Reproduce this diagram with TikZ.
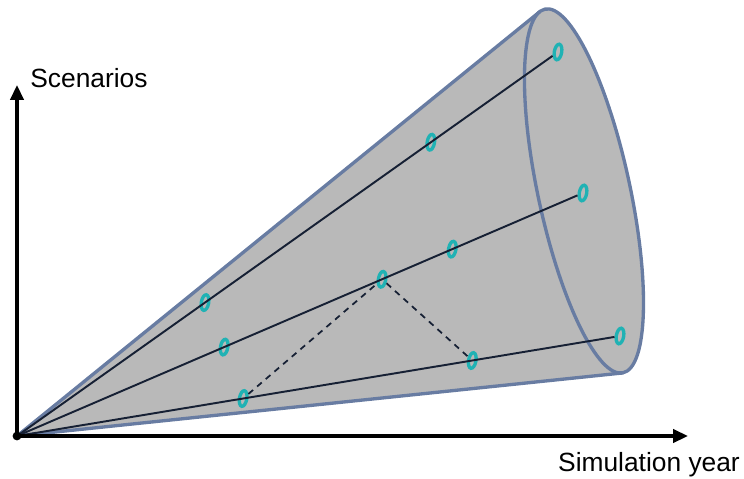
\documentclass[tikz,border=0pt]{standalone}
\usepackage{fontspec}
\setmainfont{Liberation Sans}
\usetikzlibrary{shapes.geometric, arrows.meta, calc}
\definecolor{conefill}{RGB}{185,185,185}
\definecolor{coneedge}{RGB}{104,124,162}
\definecolor{pathline}{RGB}{22,32,52}
\definecolor{ringcol}{RGB}{32,178,180}
\tikzset{
  axis/.style={line width=2pt, -{Triangle[length=8.5pt, width=7.5pt]}},
  coneline/.style={draw=coneedge, line width=1.9pt, line cap=round},
  traj/.style={draw=pathline, line width=1.1pt},
  link/.style={draw=pathline, line width=1pt, dash pattern=on 3.5pt off 3pt},
  ring/.style={ellipse, draw=ringcol, line width=1.9pt, minimum width=4.2pt,
    minimum height=9pt, inner sep=0pt, rotate=-10},
  lbl/.style={font=\fontsize{15}{18}\selectfont},
}

\begin{document}
\begin{tikzpicture}[x=0.02cm, y=0.02cm]
  \useasboundingbox (0,0) rectangle (744,478);

  % Origin and axis tips
  \coordinate (o) at (17,42);
  \coordinate (ytip) at (17,393);
  \coordinate (xtip) at (688,42);

  % Rim of the cone
  \begin{scope}[shift={(584,287)}, rotate=-77.9]
    \coordinate (rimtop) at (-172.85:186 and 46);
    \coordinate (rimbot) at (-1.55:186 and 46);
    \coordinate (rimc) at (0,0);
  \end{scope}

  % Cone
  \fill[conefill] (o) -- (rimtop) -- (rimbot) -- cycle;
  \fill[conefill, rotate around={-77.9:(rimc)}] (rimc) ellipse [x radius=186, y radius=46];
  \draw[coneline] (o) -- (rimtop);
  \draw[coneline] (o) -- (rimbot);
  \draw[coneline, rotate around={-77.9:(rimc)}] (rimc) ellipse [x radius=186, y radius=46];

  % Scenario paths
  \node[ring] (m1c) at (558,426) {};
  \node[ring] (m2d) at (583,285) {};
  \node[ring] (m3c) at (620,142) {};
  \node[ring] (m1a) at ($(o)!0.3475!(558,426)$) {};
  \node[ring] (m1b) at ($(o)!0.765!(558,426)$) {};
  \node[ring] (m2a) at ($(o)!0.366!(583,285)$) {};
  \node[ring] (m2b) at ($(o)!0.645!(583,285)$) {};
  \node[ring] (m2c) at ($(o)!0.769!(583,285)$) {};
  \node[ring] (m3a) at ($(o)!0.375!(620,142)$) {};
  \node[ring] (m3b) at ($(o)!0.755!(620,142)$) {};

  \draw[traj] (o) -- (m1c);
  \draw[traj] (o) -- (m2d);
  \draw[traj] (o) -- (m3c);
  \draw[link] (m3a) -- (m2b);
  \draw[link] (m2b) -- (m3b);

  % Axes
  \draw[axis] (o) -- (ytip);
  \draw[axis] (o) -- (xtip);
  \fill (o) circle (2.5pt);

  \node[lbl] (ylabel) at (89,400) {Scenarios};
  \node[lbl] (xlabel) at (649,13) {Simulation year};
\end{tikzpicture}
\end{document}
